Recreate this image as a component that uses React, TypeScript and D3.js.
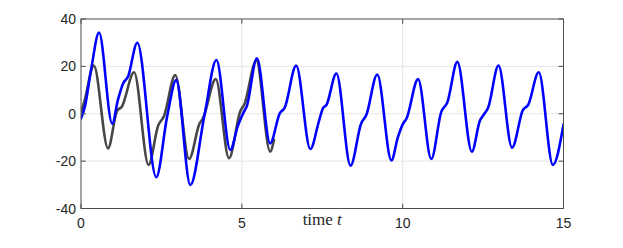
import React from 'react';
import * as d3 from 'd3';

const width = 623;
const height = 248;
const margin = { top: 19, right: 59.5, bottom: 39.5, left: 81 };

// reference trajectory (grey)
const refT = [0, 0.1, 0.4, 0.84, 1.12, 1.27, 1.65, 2.1, 2.4, 2.58, 2.93, 3.36, 3.69, 3.79, 4.19, 4.6, 4.95, 5.08, 5.45, 5.88, 6.0];
const refV = [1, 5, 20.3, -14.6, 1.2, 3, 17.5, -21.6, -5, -1, 16.3, -19.1, -4, -2, 14.6, -18.8, 1, 4, 22.5, -16, -11];

// estimated trajectory (blue)
const estT = [
  0, 0.12, 0.33, 0.56, 0.97, 1.15, 1.31, 1.46, 1.75, 2.34, 2.68, 2.96, 3.4, 3.84, 4.21, 4.64,
  4.88, 5.05, 5.15, 5.47, 5.88, 6.18, 6.33, 6.69, 7.13, 7.4, 7.52, 7.63, 7.94, 8.38, 8.71, 8.87,
  9.21, 9.65, 9.85, 10.0, 10.12, 10.48, 10.89, 11.2, 11.39, 11.7, 12.15, 12.4, 12.55, 12.65,
  12.98, 13.4, 13.74, 13.9, 14.23, 14.67, 15.0,
];
const estV = [
  -2, 3, 20, 34.3, -4.2, 6, 12.8, 15.6, 30, -26.8, -1, 14.2, -30.1, -0.5, 22.7, -15.3,
  -5, 0.5, 3, 23.4, -12.5, 0.2, 2.5, 20.3, -14.9, -3, 2.3, 3.7, 17, -21.9, -4.1, -0.5,
  16.6, -19.7, -10, -4.5, -2, 14.6, -19.1, 0.8, 4.8, 21.9, -16, -3, 0.2, 2.3,
  20.3, -14.3, 1.6, 3.7, 17.5, -21.6, -4.5,
];

const xTicks = [0, 5, 10, 15];
const yTicks = [-40, -20, 0, 20, 40];

const axisColor = '#4d4d4d';
const gridColor = '#e5e5e5';
const font = '"Liberation Sans", Arial, sans-serif';

export default function App() {
  const x = d3.scaleLinear().domain([0, 15]).range([margin.left, width - margin.right]);
  const y = d3.scaleLinear().domain([-40, 40]).range([height - margin.bottom, margin.top]);

  const path = (ts: number[], vs: number[]) => d3.line<number>()
    .x((t) => x(t))
    .y((_, i) => y(vs[i]))
    .curve(d3.curveMonotoneX)(ts) || '';

  const x0 = x(0);
  const x1 = x(15);
  const y0 = y(-40);
  const y1 = y(40);
  const tick = 4.8;

  return (
    <svg width={width} height={height} style={{ position: 'absolute', left: 0, top: 0 }}>
      <rect x={0} y={0} width={width} height={height} fill="#fff" />
      <defs>
        <clipPath id="plot">
          <rect x={x0} y={y1} width={x1 - x0} height={y0 - y1} />
        </clipPath>
      </defs>
      {/* grid */}
      {xTicks.slice(1, -1).map((t) => (
        <line key={`gx${t}`} x1={x(t)} x2={x(t)} y1={y1} y2={y0} stroke={gridColor} strokeWidth={1} />
      ))}
      {yTicks.slice(1, -1).map((v) => (
        <line key={`gy${v}`} x1={x0} x2={x1} y1={y(v)} y2={y(v)} stroke={gridColor} strokeWidth={1} />
      ))}
      {/* lines */}
      <g clipPath="url(#plot)" fill="none" strokeLinejoin="round" strokeLinecap="round">
        <path d={path(refT, refV)} stroke="#474747" strokeWidth={2.6} />
        <path d={path(estT, estV)} stroke="#0000ff" strokeWidth={2.6} />
      </g>
      {/* box and ticks */}
      <rect x={x0} y={y1} width={x1 - x0} height={y0 - y1} fill="none" stroke={axisColor} strokeWidth={1} />
      {xTicks.map((t) => (
        <g key={`tx${t}`} stroke={axisColor}>
          <line x1={x(t)} x2={x(t)} y1={y0} y2={y0 - tick} />
          <line x1={x(t)} x2={x(t)} y1={y1} y2={y1 + tick} />
        </g>
      ))}
      {yTicks.map((v) => (
        <g key={`ty${v}`} stroke={axisColor}>
          <line x1={x0} x2={x0 + tick} y1={y(v)} y2={y(v)} />
          <line x1={x1} x2={x1 - tick} y1={y(v)} y2={y(v)} />
        </g>
      ))}
      {/* tick labels */}
      {xTicks.map((t) => (
        <text key={`lx${t}`} x={x(t)} y={y0 + 19} textAnchor="middle" fontFamily={font} fontSize={14} fill="#262626">
          {t}
        </text>
      ))}
      {yTicks.map((v) => (
        <text key={`ly${v}`} x={x0 - 5} y={y(v) + 5} textAnchor="end" fontFamily={font} fontSize={14} fill="#262626">
          {v}
        </text>
      ))}
      <text x={(x0 + x1) / 2} y={y0 + 16.5} textAnchor="middle" fontFamily='"Liberation Serif", serif' fontSize={17} fill="#262626">
        time <tspan fontStyle="italic">t</tspan>
      </text>
    </svg>
  );
}
